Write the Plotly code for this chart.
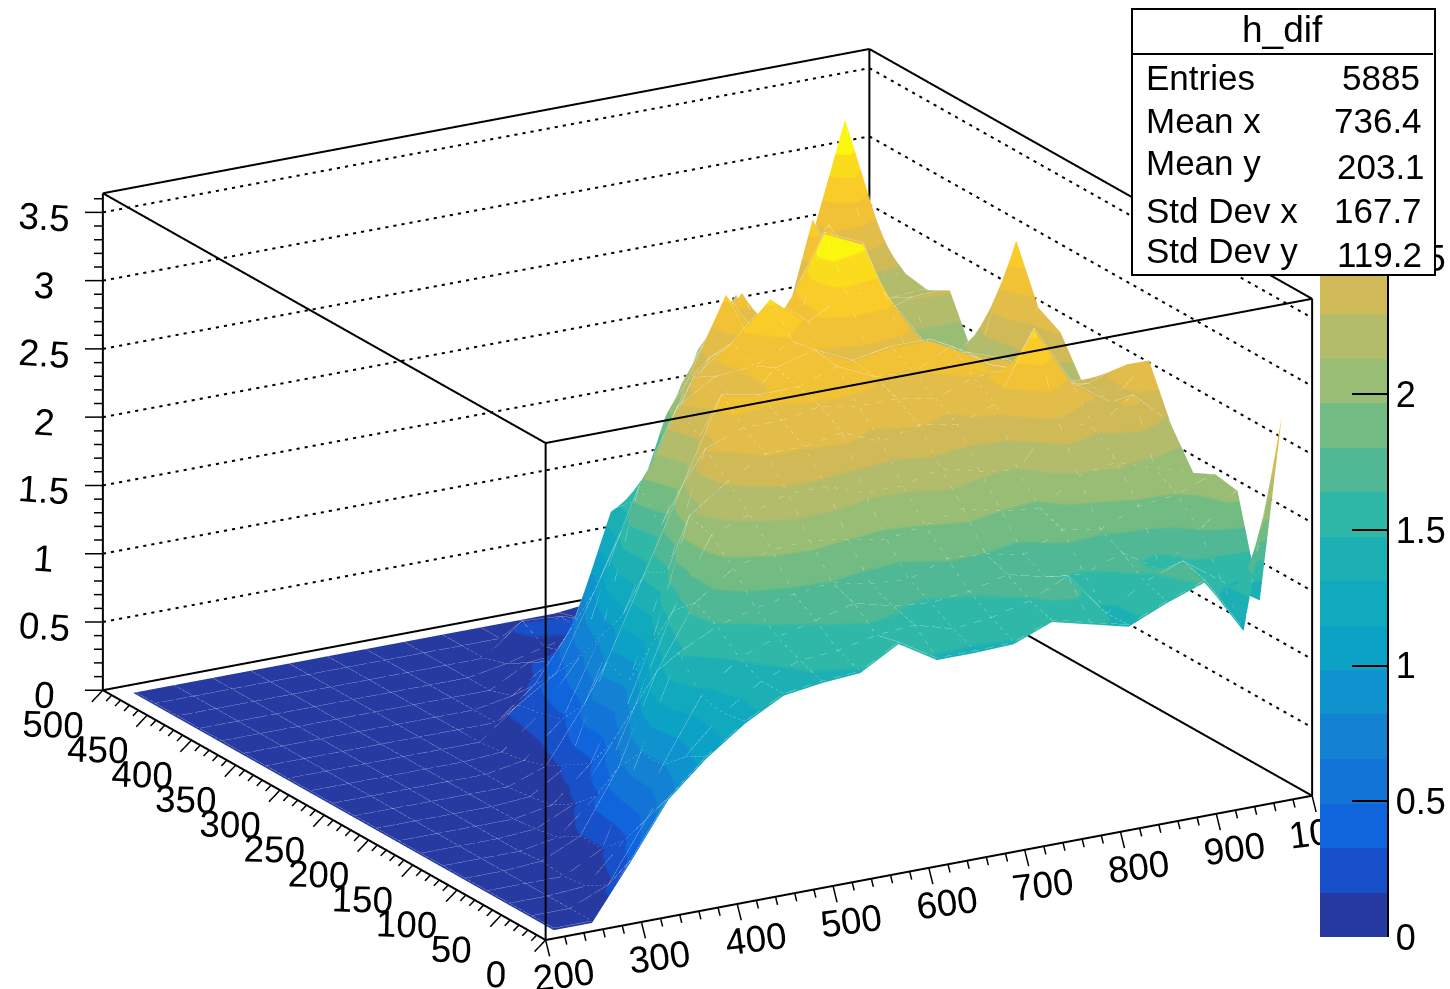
import plotly.graph_objects as go

x_centers = [220 + 40 * k for k in range(20)]
y_centers = [12.5 + 25 * k for k in range(20)]
z_rows = [
 [0,0,.39,.80,1.05,1.25,1.40,1.44,1.46,1.62,1.45,1.45,1.46,1.57,1.50,1.43,1.55,1.65,1.24,2.76],
 [0,0,.12,.55,.95,1.22,1.40,1.50,1.52,1.58,1.60,1.52,1.55,1.62,1.75,1.42,1.60,1.70,1.50,1.32],
 [0,0,.02,.30,.80,1.25,1.48,1.58,1.65,1.72,1.65,1.62,1.65,1.72,1.65,1.62,1.72,1.54,1.78,2.03],
 [0,0,0,.15,.80,1.48,1.62,1.70,1.75,1.78,1.72,1.70,1.80,1.78,1.72,1.85,1.80,1.92,1.95,2.06],
 [0,0,.02,.15,.60,1.25,1.70,1.90,1.98,2.00,1.95,1.90,1.95,2.02,1.95,1.92,2.10,2.15,2.05,1.98],
 [0,0,0,.05,.30,.90,1.55,2.05,2.15,2.25,2.25,2.15,2.15,2.22,2.15,2.10,2.45,2.30,2.50,2.24],
 [0,0,0,.02,.15,.55,1.20,2.10,2.30,2.45,2.45,2.50,2.38,2.45,2.40,2.50,3.00,2.55,2.35,2.62],
 [0,0,0,0,.05,.30,.85,1.60,2.45,2.55,2.55,2.60,2.55,2.55,2.50,2.60,2.62,2.40,2.40,2.50],
 [0,0,0,0,.02,.20,.90,1.50,2.10,2.70,2.65,2.65,2.75,2.62,2.60,2.74,2.55,2.45,2.30,2.34],
 [0,0,0,0,0,.10,.50,1.10,1.70,2.30,2.45,2.70,2.78,2.65,2.70,2.70,2.55,2.45,2.25,2.18],
 [0,0,0,0,0,.05,.30,.85,1.90,2.43,2.60,2.62,2.75,2.50,2.55,2.50,2.45,2.30,2.20,2.46],
 [0,0,0,0,0,.02,.25,.60,1.40,1.94,2.50,2.70,2.98,2.75,2.90,2.85,2.45,2.20,2.15,2.55],
 [0,0,0,0,0,0,.22,.40,.95,1.55,2.09,2.50,2.60,2.35,3.26,3.13,2.40,2.10,2.15,2.95],
 [0,0,0,0,0,0,0,.22,.60,1.40,1.55,2.24,2.83,2.40,2.85,2.90,2.25,2.00,2.05,2.33],
 [0,0,0,0,0,0,0,.05,.25,.55,1.10,1.90,2.37,2.70,2.20,2.60,2.10,2.00,1.95,1.95],
 [0,0,0,0,0,0,0,0,.15,.18,.50,1.30,2.00,2.39,2.00,2.00,2.20,2.20,2.30,2.31],
 [0,0,0,0,0,0,0,0,.05,.12,.18,.70,1.40,2.10,2.45,1.90,2.90,2.20,2.20,2.22],
 [0,0,0,0,0,0,0,0,0,.22,.20,.12,.18,.45,.75,1.60,1.70,2.70,2.25,2.25],
 [0,0,0,0,0,0,0,0,0,0,.02,.05,.08,.15,.30,.50,1.00,2.40,3.34,2.38],
 [0,0,0,0,0,0,0,0,0,0,0,0,.03,.05,.08,.10,.25,.50,1.30,1.70],
]
band_colors = ["#263AA1","#1750C9","#1064DC","#1374D8","#1382D3","#0F93CF","#0BA2C6","#10A9BE",
               "#1CB0B5","#2FB8A8","#50B894","#72BC83","#9ABD76","#B3BC6B","#D0BA58","#E2BD4A",
               "#F1C235","#F9CC2A","#FBDC1C","#FBF60E"]
z_ticks = [0, .5, 1, 1.5, 2, 2.5, 3, 3.5]
x_ticks = [200, 300, 400, 500, 600, 700, 800, 900, 1000]
y_ticks = [0, 50, 100, 150, 200, 250, 300, 350, 400, 450, 500]
x_range = [200, 1000]
y_range = [0, 500]
z_range = [0, 3.64]
z_top = 3.28
stats_names = ["Entries", "Mean x", "Mean y", "Std Dev x", "Std Dev y"]
stats_values = ["5885", "736.4", "203.1", "167.7", "119.2"]

W, H = 1450, 989
FONT = "Liberation Sans"
PAD_X, PAD_Y, PAD_Z = 36, 10, .18
scale = []
n = len(band_colors)
for k, c in enumerate(band_colors):
    scale += [[k / n, c], [(k + 1) / n, c]]

fig = go.Figure()
fig.add_trace(go.Surface(
    x=x_centers, y=y_centers, z=z_rows, colorscale=scale, cmin=0, cmax=z_top,
    lighting=dict(ambient=1, diffuse=0, specular=0, fresnel=0, roughness=1),
    hoverinfo="skip",
    colorbar=dict(
        x=1320 / W, xanchor="left", y=1 - 937 / H, yanchor="bottom",
        lenmode="pixels", len=890, thicknessmode="pixels", thickness=68,
        xpad=0, ypad=0, outlinewidth=0, tick0=0, dtick=.5, ticks="inside",
        ticklen=36, tickwidth=2, tickcolor="black",
        tickfont=dict(family=FONT, size=36, color="black"),
    ),
))

def lines(xs, ys, zs, **kw):
    fig.add_trace(go.Scatter3d(x=xs, y=ys, z=zs, mode="lines", hoverinfo="skip", showlegend=False, **kw))

# faint mesh seams on the surface
LIFT = .015
mx, my, mz = [], [], []
for j, yv in enumerate(y_centers):
    mx += x_centers + [None]; my += [yv] * 20 + [None]; mz += [v + LIFT for v in z_rows[j]] + [None]
for i, xv in enumerate(x_centers):
    mx += [xv] * 20 + [None]; my += y_centers + [None]; mz += [r[i] + LIFT for r in z_rows] + [None]
lines(mx, my, mz, line=dict(color="white", width=1), opacity=.45)

x0, x1 = x_range; y0, y1 = y_range; z0, z1 = z_range
ex, ey, ez = [], [], []
edges = [((x0,y0,z0),(x1,y0,z0)),((x1,y0,z0),(x1,y1,z0)),((x1,y1,z0),(x0,y1,z0)),((x0,y1,z0),(x0,y0,z0)),
         ((x0,y0,z1),(x1,y0,z1)),((x1,y0,z1),(x1,y1,z1)),((x1,y1,z1),(x0,y1,z1)),((x0,y1,z1),(x0,y0,z1)),
         ((x0,y0,z0),(x0,y0,z1)),((x1,y0,z0),(x1,y0,z1)),((x1,y1,z0),(x1,y1,z1)),((x0,y1,z0),(x0,y1,z1))]
for a, b in edges:
    ex += [a[0], b[0], None]; ey += [a[1], b[1], None]; ez += [a[2], b[2], None]
lines(ex, ey, ez, line=dict(color="black", width=4))

# dotted grid on the two back walls
gx, gy, gz = [], [], []
for t in z_ticks[1:]:
    for k in range(95):
        a = k / 95 * (x1 - x0) + x0
        gx += [a, a + .38 / 95 * (x1 - x0), None]; gy += [y1, y1, None]; gz += [t, t, None]
    for k in range(62):
        a = y1 - k / 62 * (y1 - y0)
        gx += [x1, x1, None]; gy += [a, a - .38 / 62 * (y1 - y0), None]; gz += [t, t, None]
lines(gx, gy, gz, line=dict(color="black", width=4))

# major and minor tick marks
tx, ty, tz = [], [], []
for k in range(41):
    v = x0 + 20 * k
    f = 1 if k % 5 == 0 else .5
    tx += [v, v + 4.2 * f, None]; ty += [y0, y0, None]; tz += [z0, z0 - .125 * f, None]
for k in range(51):
    v = y0 + 10 * k
    f = 1 if k % 5 == 0 else .5
    tx += [x0, x0 - 11.5 * f, None]; ty += [v, v, None]; tz += [z0, z0 - .07 * f, None]
for k in range(37):
    v = .1 * k
    f = 1 if k % 5 == 0 else .5
    tx += [x0, x0 - 14 * f, None]; ty += [y1, y1 + 5 * f, None]; tz += [v, v, None]
lines(tx, ty, tz, line=dict(color="black", width=3))

axis = dict(showbackground=False, showgrid=False, zeroline=False, showline=False,
            ticks="", ticklen=0, tickfont=dict(family=FONT, size=21, color="black"),
            title=dict(text=""), showspikes=False, autorange=False)

fig.update_layout(
    width=W, height=H, margin=dict(l=0, r=0, t=0, b=0, autoexpand=False), paper_bgcolor="white", showlegend=False,
    font=dict(family=FONT),
    scene=dict(
        domain=dict(x=[0, .9759], y=[0, 1]),
        aspectmode="manual",
        aspectratio=dict(x=1.79 * (x1 - x0 + 2 * PAD_X) / (x1 - x0),
                         y=1.79 * (y1 - y0 + 2 * PAD_Y) / (y1 - y0),
                         z=1.063 * (z1 - z0 + 2 * PAD_Z) / (z1 - z0)),
        camera=dict(projection=dict(type="orthographic"), up=dict(x=0, y=0, z=1),
                    eye=dict(x=-.473*2, y=-.819*2, z=.326*2), center=dict(x=0, y=0, z=0)),
        xaxis=dict(axis, range=[x0 - PAD_X, x1 + PAD_X], tickvals=x_ticks, tickangle=-7.4),
        yaxis=dict(axis, range=[y0 - PAD_Y, y1 + PAD_Y], tickvals=y_ticks, tickangle=1.7),
        zaxis=dict(axis, range=[z0 - PAD_Z, z1 + PAD_Z], tickvals=z_ticks, tickangle=4),
    ),
)

def box(px, py, w, h, fill, border=0):
    fig.add_annotation(xref="paper", yref="paper", x=px / W, y=1 - py / H, xanchor="left", yanchor="top",
                       text=" ", showarrow=False, width=w, height=h, bgcolor=fill, borderwidth=border,
                       bordercolor="black", borderpad=0, font=dict(size=1))

def label(px, py, s, anchor, size=35):
    fig.add_annotation(xref="paper", yref="paper", x=px / W, y=1 - py / H, xanchor=anchor, yanchor="middle",
                       text=s, showarrow=False, font=dict(family=FONT, size=size, color="black"))

box(1387, 47, 2, 890, "black")
box(1131, 8, 301, 264, "white", 2)
box(1132, 53, 301, 2, "black")
label(1282, 29, "h_dif", "center", 37)
for k, (s, v) in enumerate(zip(stats_names, stats_values)):
    label(1144, [77, 121, 162, 210, 251][k], s, "left")
    label([1422, 1424, 1427, 1424, 1424][k], [77, 121, 166, 210, 255][k], v, "right")

fig.write_html("out.html", config=dict(displayModeBar=False),
               post_script="document.body.style.margin='0';document.body.style.overflow='hidden';")
